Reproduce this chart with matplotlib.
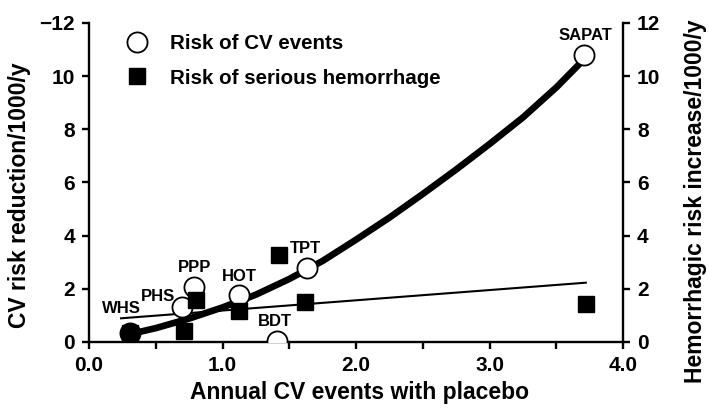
import matplotlib
matplotlib.use('Agg')
import matplotlib.pyplot as plt
from matplotlib.lines import Line2D

plt.rcParams['font.family'] = ['Liberation Sans', 'DejaVu Sans']
plt.rcParams['font.weight'] = 'bold'

# trials: annual CV events with placebo vs CV risk reduction /1000/y
trials = ['WHS', 'PHS', 'PPP', 'HOT', 'BDT', 'TPT', 'SAPAT']
cv_x = [0.31, 0.70, 0.79, 1.12, 1.41, 1.63, 3.71]
cv_y = [0.35, 1.33, 2.08, 1.77, 0.05, 2.78, 10.78]

# hemorrhagic risk increase /1000/y
hem_x = [0.31, 0.71, 0.80, 1.12, 1.42, 1.62, 3.72]
hem_y = [0.35, 0.42, 1.58, 1.17, 3.27, 1.52, 1.43]

# label positions
lab_x = [0.24, 0.52, 0.79, 1.125, 1.39, 1.62, 3.715]
lab_y = [1.24, 1.71, 2.82, 2.48, 0.76, 3.53, 11.54]

# fitted trend for CV benefit
fit_x = [0.31, 0.50, 0.75, 1.00, 1.25, 1.50, 1.75, 2.00, 2.25, 2.50, 2.75, 3.00, 3.25, 3.50, 3.70]
fit_y = [0.30, 0.52, 0.88, 1.30, 1.78, 2.37, 3.05, 3.85, 4.68, 5.57, 6.49, 7.45, 8.45, 9.58, 10.60]

# trend for bleeding risk
hfit_x = [0.24, 3.72]
hfit_y = [0.89, 2.23]

left_ticks = [0, 2, 4, 6, 8, 10, 12]
left_labels = ['0', '2', '4', '6', '8', '10', '\u221212']

fig = plt.figure(figsize=(7.09, 4.15), dpi=100)
ax = fig.add_axes([0.1255, 0.176, 0.7535, 0.7686])
ax2 = ax.twinx()

ax.plot(hfit_x, hfit_y, color='black', lw=1.5, zorder=2)
ax.plot(fit_x, fit_y, color='black', lw=4.8, solid_capstyle='round',
        solid_joinstyle='round', zorder=3)

faces = ['black' if t == 'WHS' else 'white' for t in trials]
for x, y, fc in zip(cv_x, cv_y, faces):
    ax.plot(x, y, 'o', ms=14.5, mfc=fc, mec='black', mew=1.3, zorder=4)
ax2.plot(hem_x, hem_y, 's', ms=12, color='black', zorder=5)

for t, x, y in zip(trials, lab_x, lab_y):
    ax.text(x, y, t, ha='center', va='center', fontsize=12, fontweight='bold')

for a in (ax, ax2):
    a.set_xlim(0, 4)
    a.set_ylim(0, 12)
    a.spines['top'].set_visible(False)
    for s in a.spines.values():
        s.set_linewidth(1.7)
    a.tick_params(width=1.7, length=5, direction='out', labelsize=15, pad=5)

ax.spines['right'].set_visible(False)
ax2.spines['left'].set_visible(False)
ax2.spines['bottom'].set_visible(False)

ax.set_xticks([0, 1, 2, 3, 4])
ax.set_xticklabels(['0.0', '1.0', '2.0', '3.0', '4.0'])
ax.set_xticks([0.5, 1.5, 2.5, 3.5], minor=True)
ax.tick_params(axis='x', which='minor', width=1.7, length=5, direction='out')
ax.set_yticks(left_ticks)
ax.set_yticklabels(left_labels)
ax2.set_yticks(left_ticks)

ax.set_xlabel('Annual CV events with placebo', fontsize=16.5, fontweight='bold')
ax.xaxis.label.set_va('center')
ax.xaxis.set_label_coords(0.506, -0.157)
ax.set_ylabel('CV risk reduction/1000/y', fontsize=16.5, fontweight='bold')
ax.yaxis.label.set_va('center')
ax.yaxis.set_label_coords(-0.13, 0.46)
ax2.set_ylabel('Hemorrhagic risk increase/1000/y', fontsize=16.5, fontweight='bold',
               rotation=90)
ax2.yaxis.label.set_va('center')
ax2.yaxis.set_label_coords(1.135, 0.44)

handles = [
    Line2D([], [], marker='o', ls='none', ms=14.5, mfc='white', mec='black', mew=1.3),
    Line2D([], [], marker='s', ls='none', ms=12, color='black'),
]
ax.legend(handles, ['Risk of CV events', 'Risk of serious hemorrhage'],
          loc='upper left', bbox_to_anchor=(0.025, 1.01), frameon=False,
          prop={'size': 14.8, 'weight': 'bold'}, labelspacing=0.75,
          handletextpad=0.6, borderaxespad=0.3)

fig.savefig('out.png', dpi=100)
